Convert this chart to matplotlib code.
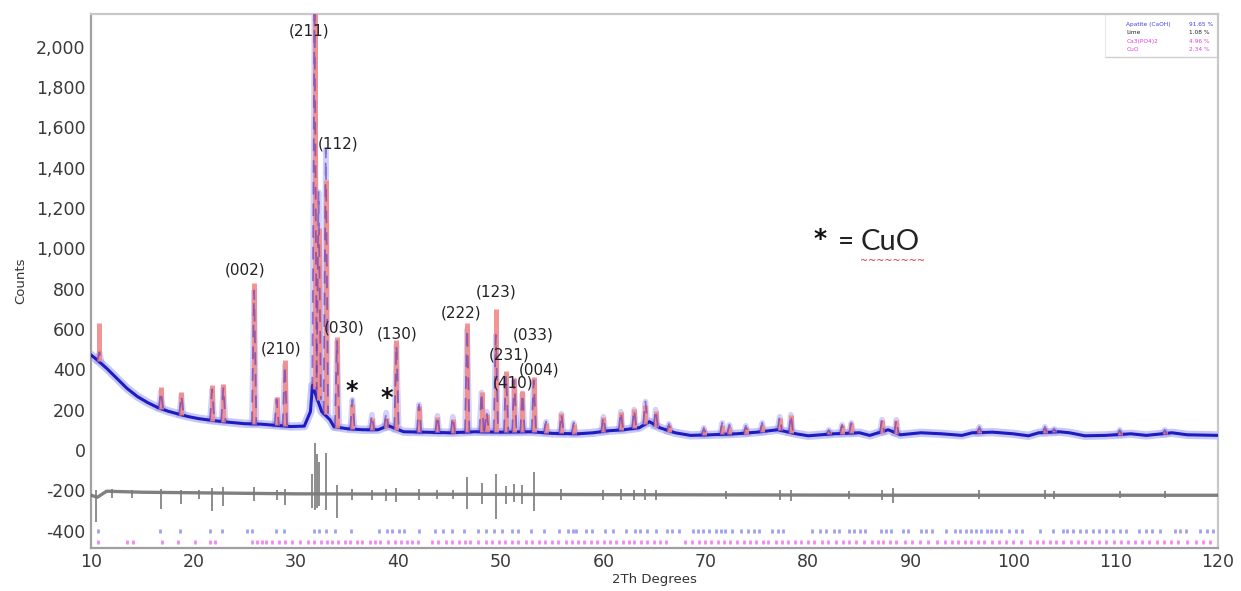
import numpy as np
import matplotlib.pyplot as plt

# 背景（实测曲线的基线部分）
bg_x = [10.0, 10.5, 11.5, 12.5, 13.5, 14.5, 15.5, 16.5, 17.5, 18.5, 19.5, 20.5, 22.0, 23.5,
        25.0, 26.5, 28.0, 29.5, 30.8, 31.4, 31.6, 32.5, 33.3, 33.7, 35.0, 36.5, 38.0, 39.0,
        39.5, 40.5, 42.5, 45.0, 47.5, 50.0, 53.0, 55.0, 57.5, 59.0, 60.5, 62.0, 63.5, 64.5,
        65.5, 67.0, 68.5, 70.5, 73.0, 75.0, 77.0, 78.8, 80.0, 82.5, 85.0, 86.0, 87.8, 89.0,
        91.0, 93.0, 95.0, 96.0, 98.0, 100.0, 101.5, 102.5, 104.5, 105.5, 107.0, 109.0, 111.5,
        113.0, 115.5, 117.0, 120.0]
bg_y = [470, 450, 405, 355, 305, 265, 235, 210, 192, 178, 165, 155, 145, 137,
        130, 128, 122, 116, 118, 190, 320, 190, 150, 115, 105, 100, 100, 120,
        110, 90, 88, 85, 90, 88, 90, 82, 80, 85, 95, 100, 110, 140,
        110, 85, 72, 75, 80, 88, 100, 80, 70, 80, 85, 72, 100, 75,
        85, 80, 72, 85, 88, 80, 70, 85, 90, 85, 70, 72, 80,
        72, 85, 75, 72]

# 衍射峰：位置、实测峰高、计算峰高、峰底
peak_pos = [10.8, 16.8, 18.8, 21.8, 22.9, 25.9, 28.1, 28.9, 31.8, 32.2, 32.9, 34.0, 35.5,
            37.4, 38.8, 39.8, 42.0, 43.8, 45.3, 46.7, 48.1, 48.6, 49.5, 50.5, 51.3, 52.1,
            53.2, 54.4, 55.9, 57.1, 60.0, 61.7, 63.0, 64.1, 65.1, 66.4, 69.8, 71.6, 72.3,
            73.9, 75.5, 77.2, 78.3, 82.0, 83.3, 84.2, 87.2, 88.6, 96.7, 103.1, 104.0, 110.4,
            114.8]
peak_obs = [485, 290, 270, 300, 310, 790, 250, 420, 2200, 1280, 1490, 540, 250,
            175, 185, 520, 225, 170, 165, 600, 285, 190, 570, 370, 345, 280,
            345, 140, 180, 135, 165, 190, 200, 240, 200, 130, 110, 135, 125,
            120, 135, 165, 175, 100, 125, 135, 150, 150, 115, 115, 105, 100,
            100]
peak_calc = [630, 310, 285, 320, 325, 830, 265, 445, 2200, 1100, 1340, 560, 230,
             160, 160, 545, 220, 165, 155, 630, 285, 180, 700, 390, 355, 290,
             360, 135, 185, 130, 165, 190, 205, 225, 195, 125, 105, 125, 115,
             115, 125, 160, 175, 95, 125, 135, 150, 150, 110, 110, 100, 95,
             95]
peak_base = [440, 205, 175, 145, 140, 128, 122, 118, 300, 250, 180, 110, 105,
             100, 110, 100, 88, 87, 85, 88, 90, 90, 88, 88, 88, 88,
             90, 86, 82, 80, 90, 100, 108, 130, 115, 90, 73, 78, 78,
             80, 88, 98, 85, 78, 80, 82, 85, 80, 82, 85, 88, 75,
             78]

# 差值曲线
resid_x = [10.0, 10.6, 11.5, 15.0, 30.0, 60.0, 90.0, 120.0]
resid_y = [-225, -235, -205, -210, -218, -222, -225, -225]
resid_pos = [10.5, 12.0, 14.0, 16.8, 18.8, 20.5, 21.8, 22.9, 25.9, 28.1, 28.9, 31.6, 31.8,
             32.0, 32.2, 32.9, 34.0, 35.5, 37.4, 38.8, 39.8, 42.0, 43.8, 45.3, 46.7, 48.1,
             49.5, 50.5, 51.3, 52.1, 53.2, 55.9, 60.0, 61.7, 63.0, 64.1, 65.1, 72.0, 77.2,
             78.3, 84.0, 87.2, 88.3, 96.7, 103.1, 104.0, 110.4, 114.8]
resid_top = [-200, -195, -198, -195, -200, -200, -190, -185, -185, -200, -195, -120, 35,
             -20, -60, -15, -175, -195, -200, -195, -190, -195, -200, -200, -135, -165,
             -120, -180, -170, -175, -110, -195, -200, -195, -200, -195, -200, -205, -200,
             -200, -205, -200, -190, -200, -200, -205, -205, -205]
resid_bot = [-360, -240, -240, -295, -270, -245, -305, -280, -255, -250, -275, -290, -300,
             -290, -280, -300, -340, -250, -250, -255, -260, -250, -245, -245, -295, -270,
             -345, -270, -260, -270, -305, -250, -250, -250, -250, -250, -250, -245, -250,
             -255, -245, -250, -265, -245, -245, -245, -240, -240]

# 衍射位置标记
hap_ticks = [10.7, 16.7, 18.7, 21.6, 22.8, 25.2, 25.7, 28.0, 28.8, 31.7, 32.2, 32.9, 33.8,
             35.4, 38.1, 38.9, 39.4, 40.0, 40.5, 42.0, 43.6, 44.3, 45.2, 46.4, 47.8, 48.5,
             49.3, 50.1, 51.1, 51.7, 52.9, 54.2, 55.7, 56.5, 57.0, 57.3, 58.3, 58.9, 60.2,
             60.9, 62.2, 63.1, 63.6, 64.3, 65.1, 66.2, 66.7, 67.4, 68.7, 69.2, 69.7, 70.3,
             71.0, 71.5, 71.9, 72.6, 73.4, 74.1, 74.7, 75.2, 76.5, 77.0, 77.5, 80.4, 81.1,
             81.7, 82.5, 83.0, 84.0, 84.5, 85.0, 85.5, 87.1, 87.6, 88.1, 89.2, 89.7, 91.0,
             91.5, 92.1, 93.4, 94.3, 94.8, 95.4, 95.9, 96.4, 96.9, 97.4, 97.8, 98.3, 98.8,
             99.6, 100.3, 100.9, 102.6, 103.9, 104.9, 105.3, 105.8, 106.5, 107.1, 107.8,
             108.4, 109.1, 109.7, 110.4, 111.0, 112.3, 113.0, 113.6, 114.3, 115.8, 116.3,
             116.9, 118.2, 118.9, 119.5]
tcp_ticks = [10.7, 13.5, 14.1, 16.9, 18.5, 20.1, 21.6, 22.1, 25.7, 26.2, 26.7, 27.1, 27.6,
             28.3, 28.9, 29.6, 30.4, 31.2, 31.7, 32.4, 33.0, 33.5, 34.1, 34.8, 35.3, 35.9,
             36.4, 37.2, 37.7, 38.2, 39.0, 39.7, 40.2, 40.8, 41.3, 41.9, 43.3, 43.9, 44.6,
             45.2, 45.9, 46.5, 47.0, 47.8, 48.5, 49.1, 49.8, 50.4, 51.1, 51.7, 52.4, 53.0,
             53.7, 54.3, 55.0, 55.6, 56.3, 56.9, 57.5, 58.1, 58.8, 59.4, 60.1, 60.6, 61.2,
             61.9, 62.5, 63.0, 63.7, 64.3, 64.9, 65.5, 66.1, 68.0, 68.6, 69.3, 69.9, 70.5,
             71.2, 71.8, 72.4, 73.0, 73.7, 74.3, 74.9, 75.6, 76.1, 76.8, 77.4, 78.0, 78.7,
             79.3, 80.0, 80.6, 81.3, 81.9, 82.7, 83.4, 84.0, 84.7, 85.4, 86.2, 86.8, 87.3,
             88.0, 88.6, 89.4, 90.1, 90.9, 91.7, 92.6, 93.3, 94.0, 94.6, 95.3, 95.9, 96.6,
             97.2, 97.9, 98.6, 99.3, 100.0, 100.8, 101.6, 102.3, 102.9, 103.6, 104.2, 104.9,
             105.6, 106.3, 107.0, 107.7, 108.4, 109.1, 109.8, 110.5, 111.2, 111.9, 112.6,
             113.3, 114.0, 114.7, 115.4, 116.1, 117.0, 117.8, 118.5, 119.2]

# 晶面标注
hkl_text = ['(211)', '(112)', '(002)', '(210)', '(030)', '(130)', '(222)', '(123)',
            '(033)', '(231)', '(004)', '(410)']
hkl_x = [31.3, 34.05, 25.05, 28.5, 34.7, 39.9, 46.1, 49.5, 53.1, 50.8, 53.7, 51.15]
hkl_y = [2079, 1519, 893, 501, 605, 576, 680, 784, 571, 471, 397, 332]
star_x = [35.4, 38.8]
star_y = [293, 258]

fig = plt.figure(figsize=(12.41, 5.91), dpi=100)
ax = fig.add_axes([0.0735, 0.073, 0.9080, 0.903])

# 实测曲线
ax.plot(bg_x, bg_y, color='#9a9af4', lw=6, alpha=0.55, zorder=2, solid_joinstyle='round')
ax.plot(bg_x, bg_y, color='#1c1cc0', lw=2.2, zorder=3)

# 计算曲线（红色）
ax.vlines(peak_pos, peak_base, peak_calc, color='#f28a8a', lw=3.6, alpha=0.9, zorder=4)

# 实测峰
for p, h, b in zip(peak_pos, peak_obs, peak_base):
    ax.plot([p - 0.22, p, p + 0.22], [b, h, b], color='#9a9af4', lw=4, alpha=0.45, zorder=2)
    ax.plot([p - 0.22, p, p + 0.22], [b, h, b], color='#5a34b8', lw=1.3, alpha=0.6,
            ls=(0, (7, 5)), zorder=5)

# 差值曲线
ax.plot(resid_x, resid_y, color='#6a6a6a', lw=2.4, alpha=0.85, zorder=3)
ax.vlines(resid_pos, resid_bot, resid_top, color='#7a7a7a', lw=1.2, zorder=3)

# 标记
ax.plot(hap_ticks, [-402] * len(hap_ticks), ls='none', marker='|', ms=3, mew=2,
        color='#8080f0', alpha=0.75, zorder=3)
ax.plot(tcp_ticks, [-457] * len(tcp_ticks), ls='none', marker='|', ms=3, mew=2,
        color='#f060f0', alpha=0.75, zorder=3)

for t, x, y in zip(hkl_text, hkl_x, hkl_y):
    ax.text(x, y, t, ha='center', va='center', fontsize=11, color='#222222', zorder=6)
for x, y in zip(star_x, star_y):
    ax.text(x, y, '*', ha='center', va='center', fontsize=17, fontweight='bold',
            color='#111111', zorder=6)

ax.text(80.5, 1045, '*', ha='left', va='center', fontsize=18, fontweight='bold', color='#111111')
ax.text(82.9, 1030, '=', ha='left', va='center', fontsize=20, family='Lato', color='#222222')
ax.text(85.1, 1030, 'CuO', ha='left', va='center', fontsize=21, family='Lato', color='#222222')
ax.text(85.0, 938, '~~~~~~~~', ha='left', va='center', fontsize=7, color='#e03030')

# 右上角的物相含量
phases = ['Apatite (CaOH)', 'Lime', 'Ca3(PO4)2', 'CuO']
percents = ['91.65 %', '1.08 %', '4.96 %', '2.34 %']
ph_colors = ['#4040e0', '#222222', '#e040e0', '#e040e0']
for i in range(4):
    ax.text(0.9185, 0.985 - i * 0.0155, phases[i], transform=ax.transAxes, fontsize=4.2,
            color=ph_colors[i], va='top')
    ax.text(0.9740, 0.985 - i * 0.0155, percents[i], transform=ax.transAxes, fontsize=4.2,
            color=ph_colors[i], va='top')
ax.plot([0.9, 1.0], [0.92, 0.92], transform=ax.transAxes, color='#d0d0d0', lw=1)
ax.plot([0.9, 0.9], [0.92, 1.0], transform=ax.transAxes, color='#e8e8e8', lw=0.8)

ax.set_xlim(10, 120)
ax.set_ylim(-486, 2162)
ax.set_xticks(np.arange(10, 121, 10))
ax.set_yticks(np.arange(-400, 2001, 200))
ax.set_yticklabels(['{:,}'.format(v) for v in range(-400, 2001, 200)])
ax.tick_params(length=0, labelsize=12.5, labelcolor='#3a3a3a', pad=4)
for s in ['left', 'bottom']:
    ax.spines[s].set_color('#a0a0a0')
    ax.spines[s].set_linewidth(1.6)
for s in ['top', 'right']:
    ax.spines[s].set_color('#c8c8c8')
    ax.spines[s].set_linewidth(1.6)
ax.set_xlabel('2Th Degrees', fontsize=9.5, color='#333333', labelpad=1)
ax.set_ylabel('Counts', fontsize=9.5, color='#333333', labelpad=6)

fig.savefig('out.png', dpi=100)
